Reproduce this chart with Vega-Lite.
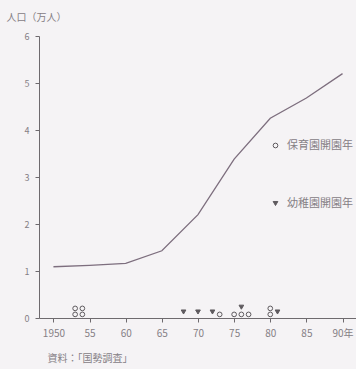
{
  "$schema": "https://vega.github.io/schema/vega-lite/v6.json",
  "width": 318,
  "height": 282,
  "autosize": "none",
  "padding": {"left": 39, "top": 36, "right": 0, "bottom": 51},
  "background": "#f5f3f5",
  "config": {
    "view": {"stroke": null},
    "font": "Noto Sans CJK JP",
    "axis": {"grid": false, "domainColor": "#6e6a6e", "tickColor": "#6e6a6e", "labelColor": "#858085", "titleColor": "#858085", "labelFontWeight": "normal", "titleFontWeight": "normal"}
  },
  "datasets": {
    "pop": [
      {"year": 1950, "pop": 1.09},
      {"year": 1955, "pop": 1.12},
      {"year": 1960, "pop": 1.16},
      {"year": 1965, "pop": 1.43},
      {"year": 1970, "pop": 2.2},
      {"year": 1975, "pop": 3.38},
      {"year": 1980, "pop": 4.25},
      {"year": 1985, "pop": 4.68},
      {"year": 1990, "pop": 5.2}
    ],
    "open": [
      {"year": 1953, "n": 1, "type": "保育園開園年"},
      {"year": 1953, "n": 2, "type": "保育園開園年"},
      {"year": 1954, "n": 1, "type": "保育園開園年"},
      {"year": 1954, "n": 2, "type": "保育園開園年"},
      {"year": 1973, "n": 1, "type": "保育園開園年"},
      {"year": 1975, "n": 1, "type": "保育園開園年"},
      {"year": 1976, "n": 1, "type": "保育園開園年"},
      {"year": 1977, "n": 1, "type": "保育園開園年"},
      {"year": 1980, "n": 1, "type": "保育園開園年"},
      {"year": 1980, "n": 2, "type": "保育園開園年"},
      {"year": 1968, "n": 1.4, "type": "幼稚園開園年"},
      {"year": 1970, "n": 1.4, "type": "幼稚園開園年"},
      {"year": 1972, "n": 1.4, "type": "幼稚園開園年"},
      {"year": 1976, "n": 2.2, "type": "幼稚園開園年"},
      {"year": 1981, "n": 1.4, "type": "幼稚園開園年"}
    ]
  },
  "encoding": {
    "x": {
      "field": "year", "type": "quantitative",
      "scale": {"domain": [1948, 1992], "nice": false, "zero": false},
      "axis": {
        "values": [1950, 1955, 1960, 1965, 1970, 1975, 1980, 1985, 1990],
        "labelExpr": "datum.value == 1950 ? '1950' : (datum.value == 1990 ? '90年' : substring(toString(datum.value), 2, 4))",
        "labelOverlap": false, "labelFlush": false,
        "tickSize": 4, "labelPadding": 6, "labelFontSize": 10,
        "title": "資料：「国勢調査」", "titleFontSize": 10,
        "titleAnchor": "start", "titleAlign": "left", "titleX": 8, "titleY": 40, "titleBaseline": "middle"
      }
    }
  },
  "layer": [
    {
      "data": {"name": "pop"},
      "mark": {"type": "line", "color": "#7d6e7e", "strokeWidth": 1.3},
      "encoding": {
        "y": {
          "field": "pop", "type": "quantitative",
          "scale": {"domain": [0, 6], "nice": false},
          "axis": {
            "values": [0, 1, 2, 3, 4, 5, 6],
            "labelOverlap": false,
            "tickSize": 4, "labelPadding": 6, "labelFontSize": 9,
            "title": "人口（万人）", "titleFontSize": 10, "titleAngle": 0,
            "titleAlign": "left", "titleBaseline": "middle", "titleX": -33, "titleY": -19
          }
        }
      }
    },
    {
      "data": {"name": "open"},
      "mark": {"type": "point", "size": 22, "strokeWidth": 1, "opacity": 1},
      "encoding": {
        "y": {"field": "n", "type": "quantitative", "scale": {"domain": [0.4, 47.4], "zero": false, "nice": false}, "axis": null},
        "shape": {
          "field": "type", "type": "nominal",
          "scale": {"domain": ["保育園開園年", "幼稚園開園年"], "range": ["circle", "triangle-down"]},
          "legend": {
            "orient": "none", "legendX": 231, "legendY": 104, "title": null,
            "rowPadding": 46, "labelFontSize": 11, "labelColor": "#858085",
            "labelOffset": 6, "symbolSize": 22, "symbolStrokeWidth": 1
          }
        },
        "fill": {
          "field": "type", "type": "nominal",
          "scale": {"domain": ["保育園開園年", "幼稚園開園年"], "range": ["#f5f3f5", "#5e5a5e"]}
        },
        "stroke": {"value": "#5e5a5e"}
      }
    }
  ],
  "resolve": {"scale": {"y": "independent"}}
}
